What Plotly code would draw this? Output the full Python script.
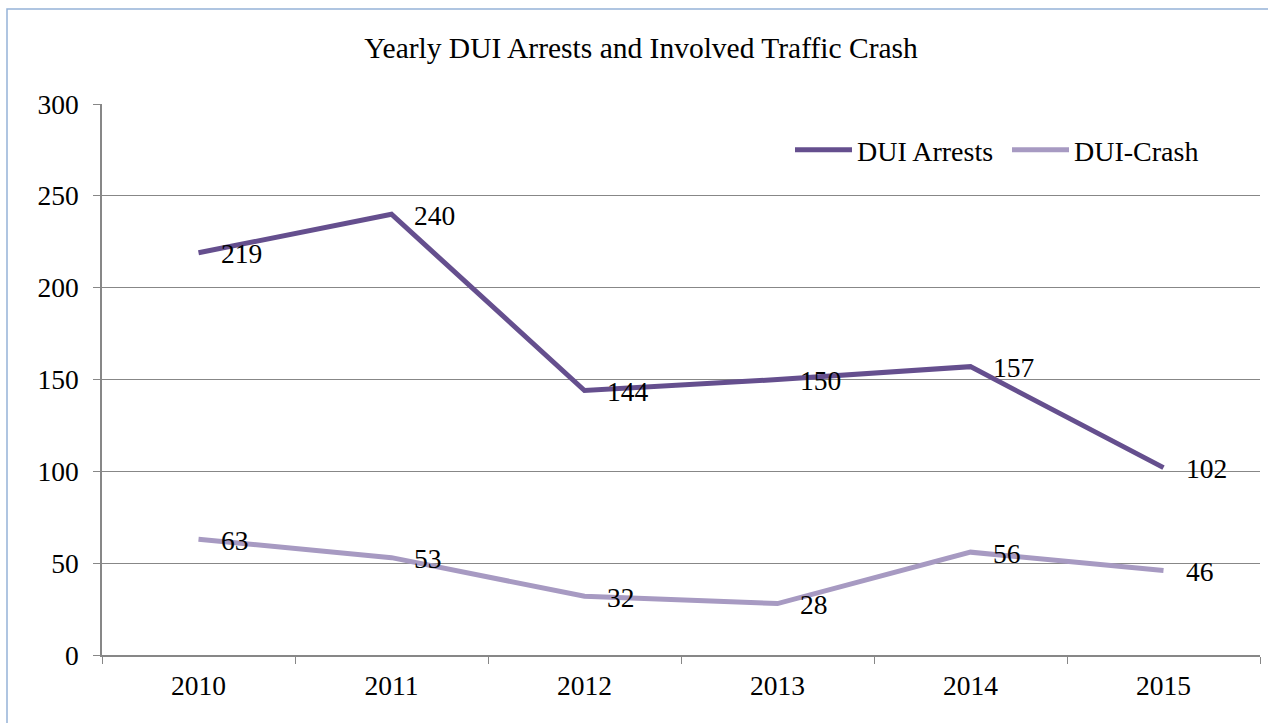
import plotly.graph_objects as go

years = ["2010", "2011", "2012", "2013", "2014", "2015"]
dui_arrests = [219, 240, 144, 150, 157, 102]
dui_crash = [63, 53, 32, 28, 56, 46]
series_names = ["DUI Arrests", "DUI-Crash"]
title_text = "Yearly DUI Arrests and Involved Traffic Crash"

dark = "#654F8E"
light = "#A79AC2"
grid = "#878787"
FONT = "Liberation Serif, Times New Roman, serif"
FS = 27.5

W, H = 1268, 723
L, R, T, B = 102, 8, 104, 68
pw, ph = W - L - R, H - T - B

def px_x(p):
    return (p - L) / pw

def px_y(p):
    return (H - B - p) / ph

fig = go.Figure()
for name, vals, col in [(series_names[0], dui_arrests, dark), (series_names[1], dui_crash, light)]:
    fig.add_trace(go.Scatter(x=years, y=vals, mode="lines", name=name,
                             line=dict(color=col, width=5)))
    for i, yv in enumerate(vals):
        fig.add_annotation(x=i, y=yv, xref="x", yref="y", text=str(yv), showarrow=False,
                           xanchor="left", yanchor="middle", xshift=20, yshift=-1,
                           font=dict(family=FONT, size=FS, color="#000000"))

fig.add_shape(type="rect", xref="paper", yref="paper",
              x0=px_x(7), x1=px_x(W + 10), y0=px_y(H + 10), y1=px_y(9),
              line=dict(color="#95B3D7", width=1.5), fillcolor="rgba(0,0,0,0)", layer="below")

fig.update_layout(
    width=W, height=H,
    margin=dict(l=L, r=R, t=T, b=B),
    paper_bgcolor="white", plot_bgcolor="white",
    font=dict(family=FONT, size=FS, color="#000000"),
    title=dict(text=title_text, x=641 / W, xref="container", xanchor="center",
               y=1 - 48 / H, yref="container", yanchor="middle",
               font=dict(family=FONT, size=29.5, color="#000000")),
    showlegend=True,
    legend=dict(orientation="h", x=px_x(790), xanchor="left", y=px_y(150), yanchor="middle",
                bgcolor="rgba(0,0,0,0)", font=dict(family=FONT, size=28), itemwidth=57,
                entrywidth=145, entrywidthmode="pixels", tracegroupgap=0),
    xaxis=dict(type="category", range=[-0.5, 5.5], tickson="boundaries", ticks="outside",
               ticklen=7, tickcolor=grid, showline=True, linecolor=grid, linewidth=1.5,
               showgrid=False, ticklabelstandoff=5, tickfont=dict(family=FONT, size=FS)),
    yaxis=dict(range=[0, 300], dtick=50, tick0=0, ticks="outside", ticklen=7, tickcolor=grid,
               showline=True, linecolor=grid, linewidth=1.5, showgrid=True, gridcolor=grid,
               gridwidth=1.2, zeroline=False, ticklabelstandoff=9,
               tickfont=dict(family=FONT, size=FS)),
)

fig.write_html("out.html", config={"displayModeBar": False},
               post_script="document.body.style.margin='0';document.body.style.overflow='hidden';")
